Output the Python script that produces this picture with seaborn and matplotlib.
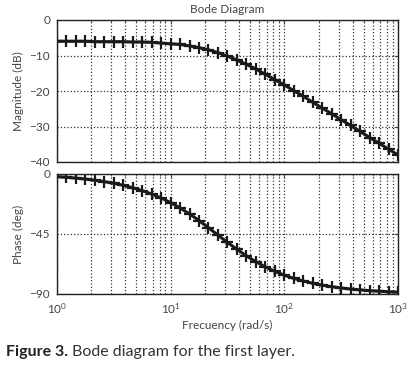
import numpy as np
import pandas as pd
import matplotlib
matplotlib.use("Agg")
import matplotlib.pyplot as plt
import seaborn as sns
from matplotlib.ticker import LogLocator, LogFormatterMathtext, NullFormatter

# frequency points (rad/s)
freq = [1.00, 1.21, 1.47, 1.78, 2.15, 2.61, 3.16, 3.83, 4.64, 5.62, 6.81, 8.25,
        10.0, 12.1, 14.7, 17.8, 21.5, 26.1, 31.6, 38.3, 46.4, 56.2, 68.1, 82.5,
        100, 121, 147, 178, 215, 261, 316, 383, 464, 562, 681, 825, 1000]
# magnitude (dB)
mag = [-6.0, -6.0, -6.0, -6.0, -6.1, -6.1, -6.1, -6.1, -6.2, -6.2, -6.3, -6.5,
       -6.7, -6.9, -7.3, -7.8, -8.4, -9.2, -10.2, -11.3, -12.5, -13.8, -15.3, -16.8,
       -18.3, -19.9, -21.5, -23.2, -24.8, -26.4, -28.1, -29.7, -31.4, -33.1, -34.7, -36.4, -38.0]
# phase (deg)
phase = [-2.0, -2.5, -3.1, -3.8, -4.7, -5.7, -7.0, -8.5, -10.3, -12.5, -15.0, -18.0,
         -21.5, -25.5, -30.0, -35.0, -40.3, -45.9, -51.3, -56.5, -61.4, -65.8, -69.7, -73.0,
         -75.9, -78.3, -80.3, -82.0, -83.4, -84.5, -85.5, -86.3, -86.9, -87.5, -87.9, -88.3, -88.6]

df = pd.DataFrame({"freq": freq, "mag": mag, "phase": phase})

sns.set_style("white")
plt.rcParams["font.family"] = ["Lato", "DejaVu Sans"]
plt.rcParams["mathtext.fontset"] = "custom"
plt.rcParams["mathtext.rm"] = "Lato"

txt = "#444444"
fig = plt.figure(figsize=(4.10, 3.77), dpi=100)
ax1 = fig.add_axes([57/410, 1 - 162/377, 341/410, 142/377])
ax2 = fig.add_axes([57/410, 1 - 294/377, 341/410, 120/377])

line_kw = dict(color="#1a1a1a", lw=2.2, marker="+", markersize=8, mew=1.6,
               mec="#1a1a1a", linestyle="-")
sns.lineplot(data=df, x="freq", y="mag", ax=ax1, **line_kw)
sns.lineplot(data=df, x="freq", y="phase", ax=ax2, **line_kw)

for ax in (ax1, ax2):
    ax.set_xscale("log")
    ax.set_xlim(1, 1000)
    ax.xaxis.set_major_locator(LogLocator(base=10))
    ax.xaxis.set_minor_locator(LogLocator(base=10, subs=np.arange(2, 10)))
    ax.xaxis.set_minor_formatter(NullFormatter())
    ax.grid(True, which="both", axis="x", ls=":", color="#333333", lw=0.9)
    ax.grid(True, which="major", axis="y", ls=":", color="#333333", lw=0.9)
    ax.tick_params(which="both", direction="in", labelsize=8.5, colors=txt,
                   top=True, right=True, length=3, pad=5)
    ax.tick_params(which="minor", length=1.5)
    for s in ax.spines.values():
        s.set_color("#222222")
        s.set_linewidth(1.0)
    ax.set_xlabel("")

ax1.set_ylim(-40, 0)
ax1.set_yticks([0, -10, -20, -30, -40])
ax1.xaxis.set_major_formatter(NullFormatter())
ax1.set_ylabel("Magnitude (dB)", fontsize=8.5, color=txt, labelpad=4)
ax1.set_title("Bode Diagram", fontsize=8.5, color=txt, pad=5)

ax2.set_ylim(-90, 0)
ax2.set_yticks([0, -45, -90])
ax2.xaxis.set_major_formatter(LogFormatterMathtext())
ax2.set_ylabel("Phase (deg)", fontsize=8.5, color=txt, labelpad=4)
ax2.set_xlabel("Frecuency (rad/s)", fontsize=8.5, color=txt, labelpad=3)

t1 = fig.text(6/410, 1 - 352/377, "Figure 3.", fontsize=11.5, fontweight="bold",
              color="#222222", va="center")
fig.canvas.draw()
bb = t1.get_window_extent(fig.canvas.get_renderer())
fig.text((bb.x1 + 4) / 410, 1 - 352/377, "Bode diagram for the first layer.",
         fontsize=11.5, color="#333333", va="center")

fig.savefig("out.png", dpi=100)
